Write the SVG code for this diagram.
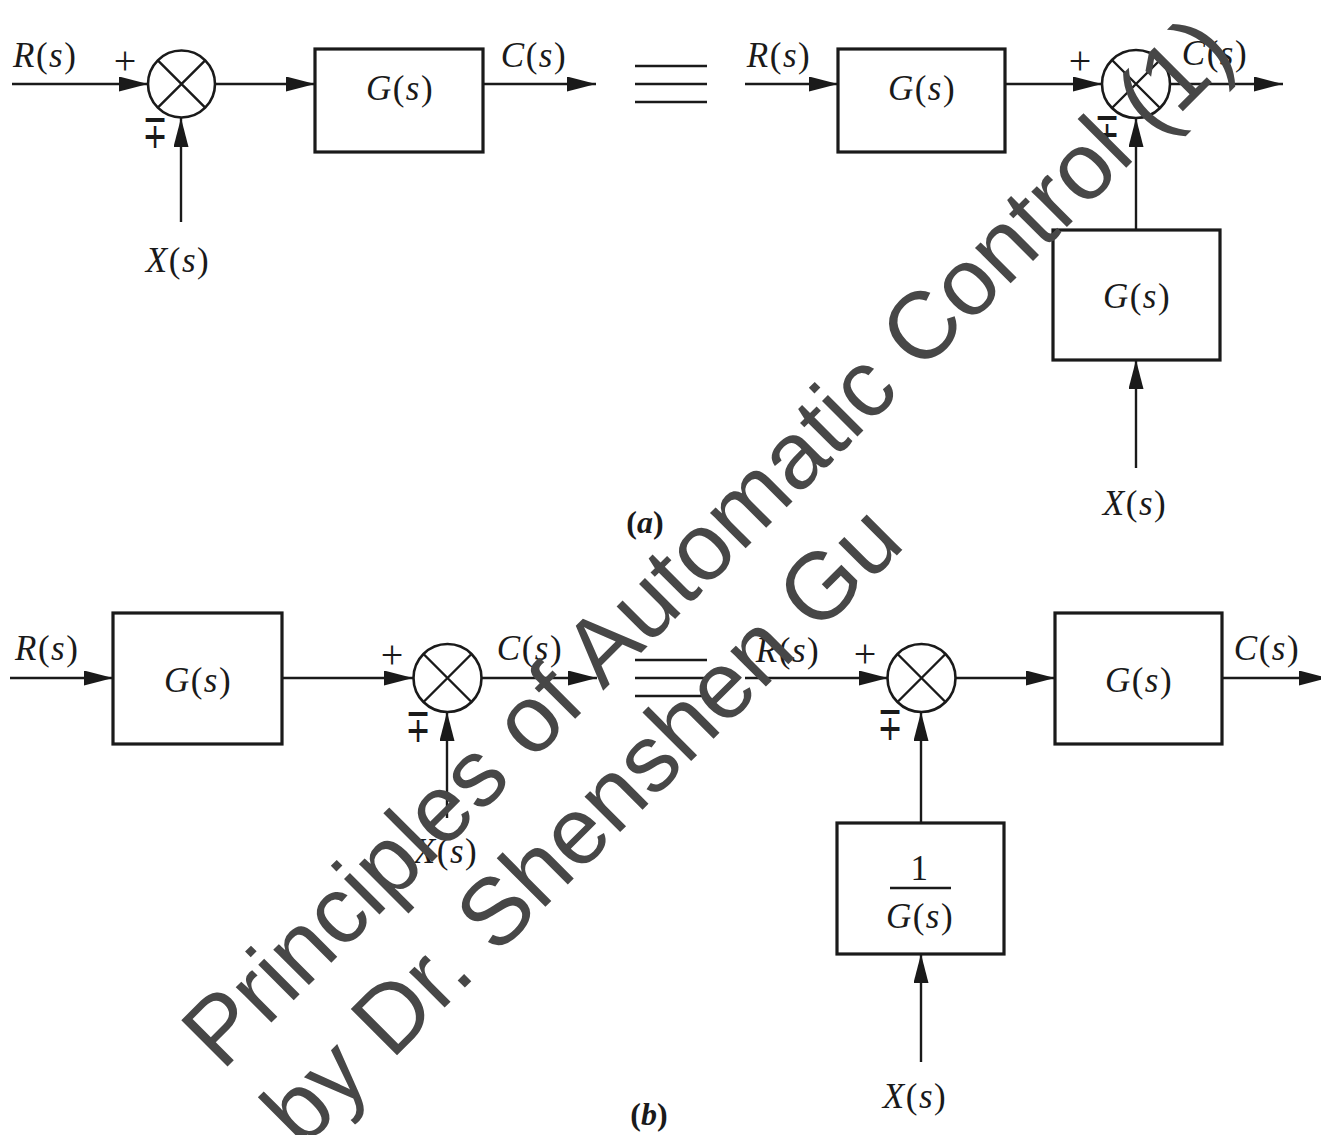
<svg xmlns="http://www.w3.org/2000/svg" width="1321" height="1135" viewBox="0 0 1321 1135">
<style>
.ln{stroke:#1a1a1a;stroke-width:2.4;fill:none}
.bx{stroke:#1a1a1a;stroke-width:3.2;fill:#fff}
.sj{stroke:#1a1a1a;stroke-width:2.6;fill:#fff}
.t{font-family:"Liberation Serif","Times New Roman",serif;font-size:35px;fill:#1a1a1a;letter-spacing:1.5px}
.c{text-anchor:middle}
.i{font-style:italic}
.sg{font-family:"Liberation Serif","Times New Roman",serif;font-size:40px;fill:#1a1a1a;text-anchor:middle}
.pm{font-family:"DejaVu Sans",sans-serif;font-size:40px;fill:#1a1a1a;text-anchor:middle}
.lb{font-family:"Liberation Serif","Times New Roman",serif;font-size:32px;font-weight:bold;fill:#1a1a1a;text-anchor:middle}
.wm{font-family:"Liberation Sans",Arial,sans-serif;font-size:95px;fill:#474747}
</style>
<defs>
<marker id="ah" markerUnits="userSpaceOnUse" markerWidth="30" markerHeight="16" refX="29" refY="7.5" orient="auto">
<path d="M0,0 L29,7.5 L0,15 z" fill="#1a1a1a"/>
</marker>
</defs>

<g id="connectors">
<line class="ln" x1="12" y1="84" x2="148" y2="84" marker-end="url(#ah)"/>
<line class="ln" x1="215" y1="84" x2="315" y2="84" marker-end="url(#ah)"/>
<line class="ln" x1="483" y1="84" x2="596" y2="84" marker-end="url(#ah)"/>
<line class="ln" x1="181" y1="222" x2="181" y2="118" marker-end="url(#ah)"/>
<line class="ln" x1="635" y1="66" x2="707" y2="66"/>
<line class="ln" x1="635" y1="84" x2="707" y2="84"/>
<line class="ln" x1="635" y1="102" x2="707" y2="102"/>
<line class="ln" x1="745" y1="84" x2="838" y2="84" marker-end="url(#ah)"/>
<line class="ln" x1="1005" y1="84" x2="1102" y2="84" marker-end="url(#ah)"/>
<line class="ln" x1="1170" y1="84" x2="1283" y2="84" marker-end="url(#ah)"/>
<line class="ln" x1="1136" y1="230" x2="1136" y2="118" marker-end="url(#ah)"/>
<line class="ln" x1="1136" y1="468" x2="1136" y2="360" marker-end="url(#ah)"/>
<line class="ln" x1="10" y1="678" x2="113" y2="678" marker-end="url(#ah)"/>
<line class="ln" x1="282" y1="678" x2="413" y2="678" marker-end="url(#ah)"/>
<line class="ln" x1="482" y1="678" x2="597" y2="678" marker-end="url(#ah)"/>
<line class="ln" x1="447" y1="818" x2="447" y2="712" marker-end="url(#ah)"/>
<line class="ln" x1="635" y1="660" x2="707" y2="660"/>
<line class="ln" x1="635" y1="678" x2="707" y2="678"/>
<line class="ln" x1="635" y1="696" x2="707" y2="696"/>
<line class="ln" x1="745" y1="678" x2="888" y2="678" marker-end="url(#ah)"/>
<line class="ln" x1="955" y1="678" x2="1055" y2="678" marker-end="url(#ah)"/>
<line class="ln" x1="1222" y1="678" x2="1328" y2="678" marker-end="url(#ah)"/>
<line class="ln" x1="921" y1="823" x2="921" y2="712" marker-end="url(#ah)"/>
<line class="ln" x1="921" y1="1062" x2="921" y2="954" marker-end="url(#ah)"/>
</g>

<g id="sum-a1">
<circle class="sj" cx="181.5" cy="84" r="33.5"/>
<path class="ln" d="M157.8,60.3 L205.2,107.7 M205.2,60.3 L157.8,107.7"/>
<text class="sg" x="125" y="74">+</text>
<text class="pm" transform="translate(155,148) scale(0.75,1.2)">∓</text>
</g>
<g id="block-a1">
<rect class="bx" x="315" y="49" width="168" height="103"/>
<text class="t c" x="400" y="100"><tspan class="i">G</tspan>(<tspan class="i">s</tspan>)</text>
</g>
<g id="label-a-R1"><text class="t" x="13" y="67"><tspan class="i">R</tspan>(<tspan class="i">s</tspan>)</text></g>
<g id="label-a-C1"><text class="t c" x="534" y="67"><tspan class="i">C</tspan>(<tspan class="i">s</tspan>)</text></g>
<g id="label-a-X1"><text class="t c" x="178" y="272"><tspan class="i">X</tspan>(<tspan class="i">s</tspan>)</text></g>

<g id="block-a2">
<rect class="bx" x="838" y="49" width="167" height="103"/>
<text class="t c" x="922" y="100"><tspan class="i">G</tspan>(<tspan class="i">s</tspan>)</text>
</g>
<g id="sum-a2">
<circle class="sj" cx="1136" cy="84" r="34"/>
<path class="ln" d="M1112,60 L1160,108 M1160,60 L1112,108"/>
<text class="sg" x="1080" y="74">+</text>
<text class="pm" transform="translate(1107,146) scale(0.75,1.2)">∓</text>
</g>
<g id="block-a3">
<rect class="bx" x="1053" y="230" width="167" height="130"/>
<text class="t c" x="1137" y="308"><tspan class="i">G</tspan>(<tspan class="i">s</tspan>)</text>
</g>
<g id="label-a-R2"><text class="t c" x="779" y="67"><tspan class="i">R</tspan>(<tspan class="i">s</tspan>)</text></g>
<g id="label-a-C2"><text class="t c" x="1215" y="65"><tspan class="i">C</tspan>(<tspan class="i">s</tspan>)</text></g>
<g id="label-a-X2"><text class="t c" x="1135" y="515"><tspan class="i">X</tspan>(<tspan class="i">s</tspan>)</text></g>
<g id="caption-a"><text class="lb" x="645" y="533">(<tspan font-style="italic">a</tspan>)</text></g>

<g id="block-b1">
<rect class="bx" x="113" y="613" width="169" height="131"/>
<text class="t c" x="198" y="692"><tspan class="i">G</tspan>(<tspan class="i">s</tspan>)</text>
</g>
<g id="sum-b1">
<circle class="sj" cx="447.5" cy="678" r="34"/>
<path class="ln" d="M423.5,654 L471.5,702 M471.5,654 L423.5,702"/>
<text class="sg" x="392" y="668">+</text>
<text class="pm" transform="translate(418,742) scale(0.75,1.2)">∓</text>
</g>
<g id="label-b-R1"><text class="t" x="15" y="660"><tspan class="i">R</tspan>(<tspan class="i">s</tspan>)</text></g>
<g id="label-b-C1"><text class="t c" x="530" y="660"><tspan class="i">C</tspan>(<tspan class="i">s</tspan>)</text></g>
<g id="label-b-X1"><text class="t c" x="446" y="863"><tspan class="i">X</tspan>(<tspan class="i">s</tspan>)</text></g>

<g id="sum-b2">
<circle class="sj" cx="921.5" cy="678" r="34"/>
<path class="ln" d="M897.5,654 L945.5,702 M945.5,654 L897.5,702"/>
<text class="sg" x="865" y="667">+</text>
<text class="pm" transform="translate(890,740) scale(0.75,1.2)">∓</text>
</g>
<g id="block-b2">
<rect class="bx" x="1055" y="613" width="167" height="131"/>
<text class="t c" x="1139" y="692"><tspan class="i">G</tspan>(<tspan class="i">s</tspan>)</text>
</g>
<g id="block-b3">
<rect class="bx" x="837" y="823" width="167" height="131"/>
<text class="t c" x="920" y="880">1</text>
<line class="ln" x1="890" y1="888" x2="951" y2="888" stroke-width="2"/>
<text class="t c" x="920" y="928"><tspan class="i">G</tspan>(<tspan class="i">s</tspan>)</text>
</g>
<g id="label-b-R2"><text class="t c" x="788" y="662"><tspan class="i">R</tspan>(<tspan class="i">s</tspan>)</text></g>
<g id="label-b-C2"><text class="t c" x="1267" y="660"><tspan class="i">C</tspan>(<tspan class="i">s</tspan>)</text></g>
<g id="label-b-X2"><text class="t c" x="915" y="1108"><tspan class="i">X</tspan>(<tspan class="i">s</tspan>)</text></g>
<g id="caption-b"><text class="lb" x="649" y="1125">(<tspan font-style="italic">b</tspan>)</text></g>

<g id="watermark" transform="translate(227,1067) rotate(-45)">
<text class="wm" x="-7" y="0">Principles of Automatic Control (1)</text>
<text class="wm" x="-6" y="112">by Dr. Shenshen Gu</text>
</g>
</svg>
